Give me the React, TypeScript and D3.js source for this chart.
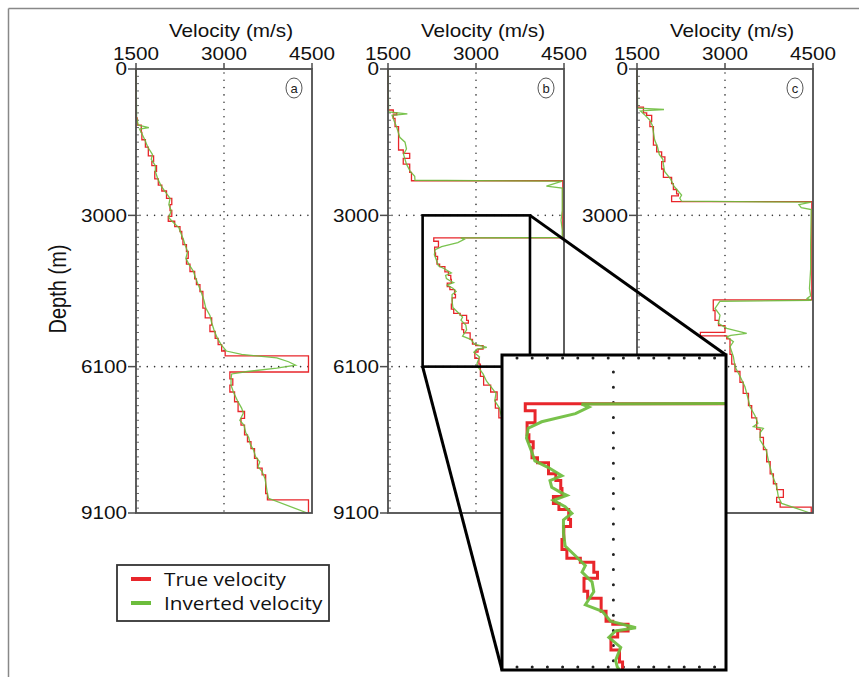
import React from "react";
import * as d3 from "d3";

type Pt = [number, number]; // [depth (m), velocity (m/s)]

const VELOCITY_TICKS = [1500, 3000, 4500];
const DEPTH_TICKS = [0, 3000, 6100, 9100];
const GRID_DEPTHS = [3000, 6100];
const GRID_VELOCITY = 3000;
const PANEL_LABELS = ["a", "b", "c"];
const LEGEND_LABELS = ["True velocity", "Inverted velocity"];
const X_TITLE = "Velocity (m/s)";
const Y_TITLE = "Depth (m)";
const VEL_DOMAIN = [1500, 4500];
const MAX_DEPTH = 9100;
const ZOOM_VELOCITY = [2090, 3920];
const ZOOM_DEPTH = [3000, 6100];

// ---- Panel a ----
const trueA: Pt[] = [
  [0, 1500], [1000, 1520], [1150, 1590], [1300, 1600], [1450, 1660], [1600, 1710],
  [1780, 1800], [1900, 1770], [1980, 1850], [2100, 1820], [2250, 1880], [2380, 1940],
  [2500, 2020], [2650, 2110], [2780, 2080], [2900, 2110], [3020, 2050], [3120, 2160],
  [3230, 2250], [3330, 2280], [3480, 2300], [3600, 2360], [3740, 2390], [3880, 2360],
  [4000, 2420], [4150, 2500], [4300, 2530], [4420, 2590], [4560, 2640], [4900, 2680],
  [5100, 2790], [5250, 2760], [5380, 2850], [5520, 2900], [5650, 2960], [5780, 3020],
  [5880, 4440], [6210, 3100], [6350, 3150], [6480, 3100], [6620, 3180], [6820, 3240],
  [7020, 3350], [7160, 3290], [7300, 3350], [7500, 3400], [7640, 3460], [7780, 3520],
  [7980, 3570], [8180, 3650], [8320, 3710], [8700, 3740], [8830, 4440],
];
const invA: Pt[] = [
  [0, 1500], [1000, 1510], [1150, 1540], [1200, 1720], [1230, 1560], [1300, 1590],
  [1450, 1650], [1600, 1700], [1750, 1780], [1850, 1760], [1980, 1830], [2100, 1830],
  [2250, 1870], [2400, 1930], [2520, 2000], [2650, 2080], [2780, 2060], [2900, 2100],
  [3050, 2060], [3150, 2140], [3250, 2230], [3350, 2260], [3500, 2310], [3620, 2340],
  [3740, 2380], [3880, 2350], [4000, 2400], [4150, 2480], [4300, 2520], [4450, 2570],
  [4600, 2620], [4750, 2660], [4900, 2690], [5050, 2760], [5200, 2790], [5350, 2830],
  [5500, 2880], [5650, 2950], [5780, 3040], [5850, 3300], [5920, 3900], [6000, 4100],
  [6070, 4220], [6130, 3900], [6200, 3400], [6250, 3130], [6350, 3120], [6480, 3120],
  [6620, 3160], [6800, 3230], [6950, 3300], [7050, 3330], [7200, 3270], [7300, 3340],
  [7450, 3370], [7550, 3420], [7700, 3450], [7800, 3500], [7950, 3540], [8050, 3610],
  [8150, 3580], [8250, 3650], [8400, 3700], [8550, 3720], [8700, 3740], [8800, 3760],
  [9100, 4420],
];

// ---- Panel b ----
const trueB: Pt[] = [
  [0, 1500], [840, 1590], [900, 1650], [940, 1590], [1010, 1620], [1180, 1680],
  [1660, 1760], [1730, 1870], [1830, 1760], [1950, 1870], [2120, 1900], [2290, 4480],
  [3460, 2280], [3530, 2360], [3650, 2295], [3770, 2310], [3840, 2345], [3900, 2335],
  [4000, 2380], [4050, 2470], [4160, 2530], [4230, 2570], [4310, 2580], [4390, 2510],
  [4460, 2555], [4520, 2635], [4620, 2650], [4690, 2595], [4820, 2580], [4920, 2620],
  [5010, 2730], [5050, 2840], [5150, 2870], [5210, 2760], [5340, 2790], [5410, 2900],
  [5540, 2940], [5640, 2995], [5670, 3120], [5740, 3035], [5800, 2980], [5930, 3050],
  [6050, 3075], [6300, 3130], [6480, 3250], [6620, 3360], [6780, 3330], [6950, 3390],
  [7150, 3450], [7500, 3560], [7900, 3680], [8300, 3800], [8700, 3900], [8900, 4450],
];
const invB: Pt[] = [
  [0, 1500], [880, 1510], [920, 1830], [950, 1570], [1050, 1600], [1200, 1650],
  [1400, 1700], [1500, 1790], [1640, 1815], [1750, 1765], [1950, 1815], [2100, 1880],
  [2200, 1955], [2280, 1960], [2300, 4470], [2400, 4200], [2440, 4470], [2900, 4470],
  [3100, 4450], [3300, 4470], [3455, 4470], [3462, 2740], [3492, 2800], [3558, 2690],
  [3640, 2414], [3705, 2304], [3804, 2290], [3935, 2331], [4033, 2359], [4099, 2469],
  [4181, 2579], [4230, 2482], [4296, 2496], [4345, 2565], [4378, 2620], [4427, 2510],
  [4492, 2606], [4558, 2661], [4624, 2592], [4755, 2592], [4886, 2606], [4984, 2689],
  [5083, 2771], [5148, 2744], [5247, 2826], [5345, 2840], [5476, 2771], [5542, 2909],
  [5640, 2977], [5706, 3184], [5739, 3018], [5804, 2963], [5903, 3060], [6034, 3018],
  [6100, 3032], [6250, 3120], [6400, 3180], [6520, 3260], [6650, 3340], [6800, 3320],
  [6950, 3400], [7150, 3440], [7500, 3550], [7900, 3690], [8300, 3790], [8700, 3910],
  [8900, 4000], [9100, 4420],
];

// ---- Panel c ----
const trueC: Pt[] = [
  [0, 1500], [780, 1610], [900, 1665], [950, 1750], [1080, 1720], [1180, 1780],
  [1560, 1835], [1700, 1920], [1800, 1975], [1900, 1920], [2050, 1950], [2220, 2090],
  [2350, 2120], [2470, 2175], [2560, 2205], [2600, 2090], [2720, 4480], [4730, 2800],
  [4950, 2830], [5150, 2890], [5260, 3000], [5400, 2580], [5470, 3030], [5530, 3085],
  [5850, 3115], [6050, 3170], [6200, 3255], [6420, 3310], [6650, 3400], [6900, 3455],
  [7150, 3540], [7380, 3600], [7550, 3655], [7800, 3710], [8050, 3770], [8300, 3825],
  [8500, 3880], [8620, 3995], [8780, 3880], [8880, 3940], [8980, 4470],
];
const invC: Pt[] = [
  [0, 1500], [800, 1510], [830, 1960], [860, 1560], [950, 1640], [1050, 1720],
  [1150, 1760], [1300, 1780], [1450, 1800], [1600, 1850], [1750, 1880], [1850, 1940],
  [1950, 1950], [2100, 1970], [2250, 2070], [2400, 2130], [2500, 2200], [2583, 2260],
  [2650, 2230], [2710, 2260], [2730, 4470], [2780, 4260], [2840, 4300], [2880, 4470],
  [3600, 4460], [4100, 4460], [4500, 4440], [4650, 4460], [4700, 4400], [4740, 4470],
  [4760, 2915], [4907, 2830], [5043, 2915], [5214, 2887], [5317, 3029], [5419, 3370],
  [5460, 3100], [5488, 3029], [5590, 3143], [5692, 3086], [5897, 3143], [6102, 3171],
  [6307, 3260], [6512, 3340], [6785, 3400], [6922, 3426], [7100, 3510], [7263, 3560],
  [7331, 3483], [7365, 3654], [7450, 3600], [7605, 3597], [7800, 3700], [8015, 3739],
  [8289, 3796], [8562, 3881], [8767, 3909], [8904, 3966], [9100, 4450],
];

// ---- layout & style ----
const W = 859;
const H = 677;
const PANEL_LEFT = [136, 388, 637];
const PANEL_W = 176;
const TOP = 69;
const BOTTOM = 513;
const INSET = { x0: 502, x1: 726, y0: 355, y1: 670 };
const RED = "#e8262b";
const GREEN = "#6cbd3c";
const AXIS = "#4d4d4d";
const AX_FONT = "'Liberation Sans', Arial, sans-serif";
const LEG_FONT = "'Open Sans', 'Liberation Sans', sans-serif";
const SX = 1.15;

function stepPoints(layers: Pt[]): Pt[] {
  const out: Pt[] = [];
  layers.forEach(([top, v], i) => {
    const bottom = i < layers.length - 1 ? layers[i + 1][0] : MAX_DEPTH;
    out.push([top, v], [bottom, v]);
  });
  return out;
}

function T(props: {
  x: number; y: number; anchor?: string; size?: number; family?: string;
  dy?: string; children: React.ReactNode;
}) {
  const { x, y, anchor = "middle", size = 18, family = AX_FONT, dy, children } = props;
  return (
    <text
      transform={`translate(${x},${y}) scale(${SX},1)`}
      textAnchor={anchor}
      fontSize={size}
      fontFamily={family}
      dy={dy}
      fill="#111"
    >
      {children}
    </text>
  );
}

const SERIES = [
  { t: trueA, inv: invA },
  { t: trueB, inv: invB },
  { t: trueC, inv: invC },
];

function Panel({ idx }: { idx: number }) {
  const x0 = PANEL_LEFT[idx];
  const x = d3.scaleLinear().domain(VEL_DOMAIN).range([x0, x0 + PANEL_W]);
  const y = d3.scaleLinear().domain([0, MAX_DEPTH]).range([TOP, BOTTOM]);
  const line = d3.line<Pt>().x((d) => x(d[1])).y((d) => y(d[0]));
  const minor = d3.range(150, MAX_DEPTH, 150);
  const s = SERIES[idx];
  return (
    <g>
      <rect x={x0} y={TOP} width={PANEL_W} height={BOTTOM - TOP} fill="white" />
      {minor.map((d) => (
        <line key={d} x1={x0} x2={x0 + 3} y1={y(d)} y2={y(d)} stroke="#666" strokeWidth={1} />
      ))}
      <line x1={x(GRID_VELOCITY)} x2={x(GRID_VELOCITY)} y1={TOP + 4} y2={BOTTOM}
        stroke="#333" strokeWidth={1.6} strokeDasharray="0 7.3" strokeLinecap="round" />
      {GRID_DEPTHS.map((d) => (
        <line key={d} x1={x0 + 4} x2={x0 + PANEL_W} y1={y(d)} y2={y(d)}
          stroke="#333" strokeWidth={1.6} strokeDasharray="0 7.3" strokeLinecap="round" />
      ))}
      <path d={line(stepPoints(s.t)) || ""} fill="none" stroke={RED} strokeWidth={1.3} />
      <path d={line(s.inv) || ""} fill="none" stroke={GREEN} strokeWidth={1.3} strokeOpacity={0.9} />
      <rect x={x0} y={TOP} width={PANEL_W} height={BOTTOM - TOP} fill="none" stroke={AXIS} strokeWidth={1.8} />
      {VELOCITY_TICKS.map((v) => (
        <g key={v}>
          <line x1={x(v)} x2={x(v)} y1={TOP - 6} y2={TOP} stroke={AXIS} strokeWidth={1.5} />
          <T x={x(v)} y={60}>{v}</T>
        </g>
      ))}
      {DEPTH_TICKS.map((d) => (
        <g key={d}>
          <line x1={x0 - 8} x2={x0} y1={y(d)} y2={y(d)} stroke={AXIS} strokeWidth={1.5} />
          <T x={x0 - 9} y={y(d)} anchor="end" dy="0.36em">{d}</T>
        </g>
      ))}
      <T x={x0 + PANEL_W / 2 + 7} y={37}>{X_TITLE}</T>
      <ellipse cx={x0 + PANEL_W - 18} cy={TOP + 19} rx={8} ry={10} fill="white" stroke="#555" strokeWidth={1} />
      <text x={x0 + PANEL_W - 18} y={TOP + 19} dy="0.35em" textAnchor="middle" fontSize={13}
        fontFamily={AX_FONT} fill="#222">{PANEL_LABELS[idx]}</text>
    </g>
  );
}

function ZoomInset() {
  const xb = d3.scaleLinear().domain(VEL_DOMAIN).range([PANEL_LEFT[1], PANEL_LEFT[1] + PANEL_W]);
  const yb = d3.scaleLinear().domain([0, MAX_DEPTH]).range([TOP, BOTTOM]);
  const ix = d3.scaleLinear().domain(ZOOM_VELOCITY).range([INSET.x0, INSET.x1]);
  const iy = d3.scaleLinear().domain(ZOOM_DEPTH).range([INSET.y0 + 3, INSET.y1 - 3]);
  const line = d3.line<Pt>().x((d) => ix(d[1])).y((d) => iy(d[0]));
  const bx0 = xb(ZOOM_VELOCITY[0]);
  const bx1 = xb(ZOOM_VELOCITY[1]);
  const by0 = yb(ZOOM_DEPTH[0]);
  const by1 = yb(ZOOM_DEPTH[1]);
  return (
    <g>
      <rect x={bx0} y={by0} width={bx1 - bx0} height={by1 - by0} fill="none" stroke="#000" strokeWidth={2.6} />
      <line x1={bx1} y1={by0} x2={INSET.x1} y2={INSET.y0} stroke="#000" strokeWidth={3} />
      <line x1={bx0} y1={by1} x2={INSET.x0} y2={INSET.y1} stroke="#000" strokeWidth={3} />
      <clipPath id="insetClip">
        <rect x={INSET.x0} y={INSET.y0} width={INSET.x1 - INSET.x0} height={INSET.y1 - INSET.y0} />
      </clipPath>
      <rect x={INSET.x0} y={INSET.y0} width={INSET.x1 - INSET.x0} height={INSET.y1 - INSET.y0} fill="white" />
      <g clipPath="url(#insetClip)">
        <line x1={ix(GRID_VELOCITY)} x2={ix(GRID_VELOCITY)} y1={iy(ZOOM_DEPTH[0]) + 14} y2={INSET.y1}
          stroke="#222" strokeWidth={3} strokeDasharray="0 15.2" strokeLinecap="round" />
        {GRID_DEPTHS.map((d) => (
          <line key={d} x1={INSET.x0 + 15} x2={INSET.x1} y1={iy(d)} y2={iy(d)}
            stroke="#222" strokeWidth={3} strokeDasharray="0 15.2" strokeLinecap="round" />
        ))}
        <path d={line(stepPoints(trueB)) || ""} fill="none" stroke={RED} strokeWidth={3} />
        <path d={line(invB) || ""} fill="none" stroke={GREEN} strokeWidth={3} strokeOpacity={0.92} />
      </g>
      <rect x={INSET.x0} y={INSET.y0} width={INSET.x1 - INSET.x0} height={INSET.y1 - INSET.y0}
        fill="none" stroke="#000" strokeWidth={3} />
    </g>
  );
}

function Legend() {
  const colors = [RED, GREEN];
  const ys = d3.scalePoint<string>().domain(LEGEND_LABELS).range([579, 603]);
  return (
    <g>
      <rect x={117} y={565} width={212} height={56} fill="white" stroke="#333" strokeWidth={1.8} />
      {LEGEND_LABELS.map((lab, i) => (
        <g key={lab}>
          <line x1={131} x2={151} y1={ys(lab)!} y2={ys(lab)!} stroke={colors[i]} strokeWidth={4} />
          <T x={164} y={ys(lab)! + 7} anchor="start" family={LEG_FONT}>{lab}</T>
        </g>
      ))}
    </g>
  );
}

export default function App() {
  return (
    <svg width={W} height={H} style={{ position: "absolute", left: 0, top: 0, background: "white" }}>
      <rect x={0} y={0} width={W} height={H} fill="white" />
      <line x1={8.5} x2={W} y1={8.5} y2={8.5} stroke="#888" strokeWidth={1.5} />
      <line x1={8.5} x2={8.5} y1={8.5} y2={H} stroke="#888" strokeWidth={1.5} />
      {PANEL_LABELS.map((_, i) => (
        <Panel key={i} idx={i} />
      ))}
      <text transform={`translate(66,${(TOP + BOTTOM) / 2 - 2}) rotate(-90) scale(1,${SX})`}
        textAnchor="middle" fontSize={20} fontFamily={AX_FONT} fill="#111">{Y_TITLE}</text>
      <ZoomInset />
      <Legend />
    </svg>
  );
}
